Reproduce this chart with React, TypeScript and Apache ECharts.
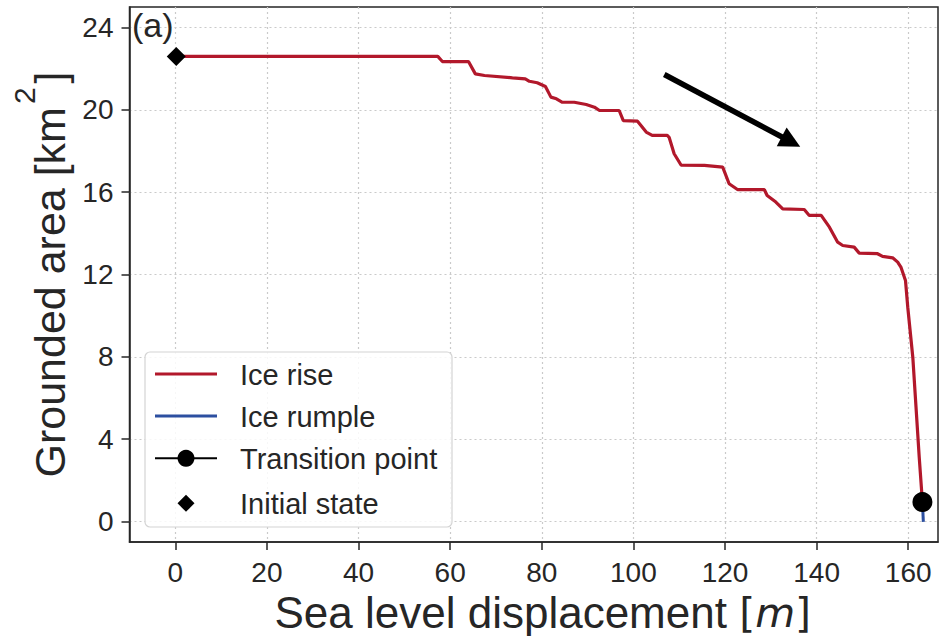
import React, { useEffect, useRef } from "react";
import * as echarts from "echarts";

// Ice rise: sea level displacement [m] vs grounded area [km^2]
const iceRiseX = [
  0.2, 57.3, 58.3, 64.0, 65.5, 67.5, 73.6, 76.4, 77.3, 79.0, 80.8, 82.0, 83.2, 84.5, 87.1,
  89.7, 91.5, 92.6, 96.9, 97.8, 100.9, 102.8, 104.1, 107.4, 107.8, 108.9, 110.4, 115.5,
  119.5, 120.9, 122.8, 128.6, 129.2, 131.1, 132.6, 137.3, 138.4, 141.0, 142.8, 144.6,
  145.7, 148.2, 149.3, 153.3, 154.4, 156.6, 157.7, 158.4, 159.4, 159.9, 161.0, 161.7,
  162.4, 163.1,
];
const iceRiseY = [
  22.6, 22.6, 22.35, 22.35, 21.75, 21.67, 21.56, 21.51, 21.39, 21.32, 21.14, 20.62, 20.54,
  20.37, 20.37, 20.26, 20.13, 19.97, 19.97, 19.48, 19.45, 18.92, 18.76, 18.76, 18.67,
  17.87, 17.32, 17.3, 17.22, 16.41, 16.12, 16.12, 15.84, 15.52, 15.19, 15.16, 14.87,
  14.87, 14.3, 13.57, 13.41, 13.33, 13.04, 13.01, 12.88, 12.81, 12.6, 12.36, 11.71,
  10.41, 7.98, 5.55, 3.12, 0.94,
];

// Ice rumple branch after the transition
const iceRumpleX = [163.1, 163.3];
const iceRumpleY = [0.94, -0.02];

const transitionPoint = [163.1, 0.94];
const initialState = [0.2, 22.6];

// Direction arrow (start, head centre) in data coordinates
const arrowStart = [106.75, 21.72];
const arrowEnd = [134.4, 18.45];

const xTicks = [0, 20, 40, 60, 80, 100, 120, 140, 160];
const yTicks = [0, 4, 8, 12, 16, 20, 24];

const legendNames = ["Ice rise", "Ice rumple", "Transition point", "Initial state"];

const FONT = "Liberation Sans, Arial, Helvetica, sans-serif";
const MATH = "DejaVu Sans, sans-serif";
const INK = "#262626";
const RED = "#b2182b";
const BLUE = "#2c4fa0";

export default function App() {
  const ref = useRef<HTMLDivElement>(null);

  useEffect(() => {
    if (!ref.current) return;
    const chart = echarts.init(ref.current, undefined, { renderer: "svg" });

    const zip = (xs: number[], ys: number[]) => xs.map((x, i) => [x, ys[i]]);

    const splitLine = {
      show: true,
      lineStyle: { color: "#cacaca", width: 1.2, type: [2, 3] as any },
    };

    // Legend box drawn as graphic elements
    const lgX = 145;
    const lgY = 352;
    const rowY = [374, 416, 458.3, 503.3];
    const iconX0 = 155;
    const iconX1 = 217;
    const iconCx = 186;
    const textX = 240;
    const legendGraphic: any[] = [
      {
        type: "rect",
        shape: { x: lgX, y: lgY, width: 307, height: 175, r: 5 },
        style: { fill: "rgba(255,255,255,0.85)", stroke: "#d4d4d4", lineWidth: 1.2 },
        z: 20,
      },
      {
        type: "line",
        shape: { x1: iconX0, y1: rowY[0], x2: iconX1, y2: rowY[0] },
        style: { stroke: RED, lineWidth: 3 },
        z: 21,
      },
      {
        type: "line",
        shape: { x1: iconX0, y1: rowY[1], x2: iconX1, y2: rowY[1] },
        style: { stroke: BLUE, lineWidth: 3 },
        z: 21,
      },
      {
        type: "line",
        shape: { x1: iconX0, y1: rowY[2], x2: iconX1, y2: rowY[2] },
        style: { stroke: "#000", lineWidth: 2 },
        z: 21,
      },
      {
        type: "circle",
        shape: { cx: iconCx, cy: rowY[2], r: 8.5 },
        style: { fill: "#000" },
        z: 22,
      },
      {
        type: "polygon",
        shape: {
          points: [
            [iconCx, rowY[3] - 8.5],
            [iconCx + 8.5, rowY[3]],
            [iconCx, rowY[3] + 8.5],
            [iconCx - 8.5, rowY[3]],
          ],
        },
        style: { fill: "#000" },
        z: 22,
      },
      ...legendNames.map((name, i) => ({
        type: "text",
        x: textX,
        y: rowY[i] + 1,
        z: 22,
        style: {
          text: name,
          fontFamily: FONT,
          fontSize: 29,
          fill: INK,
          verticalAlign: "middle",
        },
      })),
    ];

    chart.setOption({
      animation: false,
      backgroundColor: "#ffffff",
      textStyle: { fontFamily: FONT, color: INK },
      grid: {
        left: 129.5,
        right: 3,
        top: 7,
        bottom: 94,
        containLabel: false,
        outerBoundsMode: "none",
        show: true,
        borderColor: INK,
        borderWidth: 1.5,
        backgroundColor: "transparent",
      },
      xAxis: {
        type: "value",
        min: -10,
        max: 166.5,
        name: "{n|Sea level displacement }{b|[}{i|m}{b|]}",
        nameLocation: "middle",
        nameGap: 43,
        nameTextStyle: {
          padding: [0, 0, 0, 18],
          rich: {
            n: { fontFamily: FONT, fontSize: 44, color: INK },
            b: { fontFamily: MATH, fontSize: 41, color: INK },
            i: { fontFamily: MATH, fontSize: 41, color: INK, fontStyle: "italic" },
          },
        },
        axisLine: { show: true, onZero: false, lineStyle: { color: INK, width: 1.5 } },
        axisTick: {
          show: true,
          length: 8,
          lineStyle: { color: INK, width: 1.5 },
          customValues: xTicks,
        },
        axisLabel: {
          fontFamily: FONT,
          fontSize: 28,
          color: INK,
          margin: 16,
          customValues: xTicks,
        },
        splitLine,
      },
      yAxis: {
        type: "value",
        min: -1,
        max: 25,
        name: "{n|Grounded area [km}{s|2}{n|]}",
        nameLocation: "middle",
        nameGap: 48,
        nameRotate: 90,
        nameTextStyle: {
          rich: {
            n: { fontFamily: FONT, fontSize: 43, color: INK, lineHeight: 43, verticalAlign: "bottom" },
            s: {
              fontFamily: FONT,
              fontSize: 30,
              color: INK,
              lineHeight: 62,
              verticalAlign: "top",
              padding: [0, 4, 0, 3],
            },
          },
        },
        axisLine: { show: true, onZero: false, lineStyle: { color: INK, width: 1.5 } },
        axisTick: {
          show: true,
          length: 8,
          lineStyle: { color: INK, width: 1.5 },
          customValues: yTicks,
        },
        axisLabel: {
          fontFamily: FONT,
          fontSize: 28,
          color: INK,
          margin: 16,
          customValues: yTicks,
        },
        splitLine,
      },
      graphic: [
        {
          type: "text",
          left: 132,
          top: 8,
          z: 10,
          style: { text: "(a)", fontFamily: FONT, fontSize: 34, fill: INK },
        },
        ...legendGraphic,
      ],
      series: [
        {
          name: "Ice rise",
          type: "line",
          data: zip(iceRiseX, iceRiseY),
          symbol: "none",
          lineStyle: { color: RED, width: 3.2 },
          itemStyle: { color: RED },
          z: 3,
        },
        {
          name: "Ice rumple",
          type: "line",
          data: zip(iceRumpleX, iceRumpleY),
          symbol: "none",
          lineStyle: { color: BLUE, width: 3 },
          itemStyle: { color: BLUE },
          z: 3,
        },
        {
          name: "Transition point",
          type: "scatter",
          data: [transitionPoint],
          symbol: "circle",
          symbolSize: 20,
          itemStyle: { color: "#000", opacity: 1 },
          z: 5,
        },
        {
          name: "Initial state",
          type: "scatter",
          data: [initialState],
          symbol: "diamond",
          symbolSize: 19,
          itemStyle: { color: "#000", opacity: 1 },
          z: 5,
        },
        {
          name: "arrow",
          type: "line",
          data: [],
          markLine: {
            silent: true,
            symbol: ["none", "triangle"],
            symbolSize: [21, 21],
            label: { show: false },
            lineStyle: { color: "#000", width: 5.5, type: "solid", cap: "butt" },
            data: [[{ coord: arrowStart }, { coord: arrowEnd }]],
          },
        },
      ],
    });

    return () => chart.dispose();
  }, []);

  return (
    <div
      ref={ref}
      style={{ position: "fixed", left: 0, top: 0, width: 941, height: 636 }}
    />
  );
}
